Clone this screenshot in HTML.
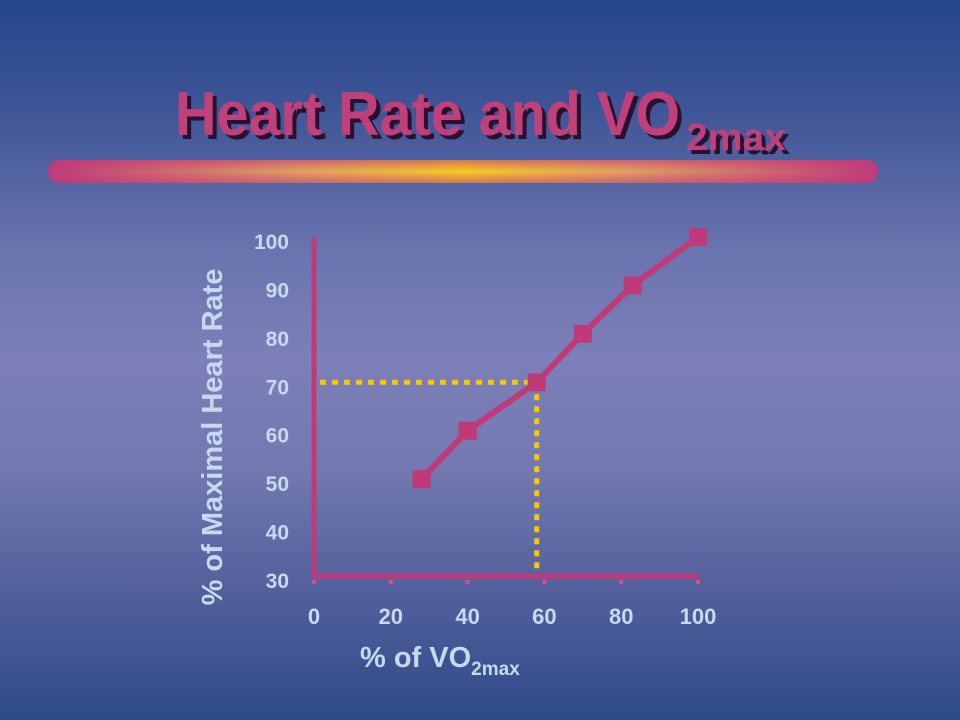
<!DOCTYPE html>
<html><head><meta charset="utf-8"><style>
html,body{margin:0;padding:0;width:960px;height:720px;overflow:hidden}
body{background:linear-gradient(180deg,#24468a 0%,#3e5596 15%,#6a74ae 35%,#7d80b8 50%,#7378b0 65%,#52609c 82%,#2e4a88 100%);font-family:"Liberation Sans",sans-serif}
</style></head><body>
<svg width="960" height="720" viewBox="0 0 960 720" style="position:absolute;left:0;top:0">
<defs>
<linearGradient id="bar" x1="0" x2="1" y1="0" y2="0">
<stop offset="0" stop-color="#c03a7a"/><stop offset="0.3" stop-color="#e0a060"/><stop offset="0.5" stop-color="#f8cc20"/><stop offset="0.7" stop-color="#e0a060"/><stop offset="1" stop-color="#c03a7a"/>
</linearGradient>
<linearGradient id="barv" x1="0" x2="0" y1="0" y2="1">
<stop offset="0" stop-color="#c03a7a" stop-opacity="0.6"/><stop offset="0.5" stop-color="#c03a7a" stop-opacity="0"/><stop offset="1" stop-color="#c03a7a" stop-opacity="0.6"/>
</linearGradient>
</defs>
<g font-weight="bold" font-family="Liberation Sans, sans-serif">
<text x="179" y="139" font-size="62" fill="#2a1030" textLength="505" lengthAdjust="spacingAndGlyphs">Heart Rate and VO</text>
<text x="690" y="154" font-size="38" fill="#2a1030" textLength="100" lengthAdjust="spacingAndGlyphs">2max</text>
<text x="175" y="135" font-size="62" fill="#c0407a" textLength="505" lengthAdjust="spacingAndGlyphs">Heart Rate and VO</text>
<text x="686" y="150" font-size="38" fill="#c0407a" textLength="100" lengthAdjust="spacingAndGlyphs">2max</text>
</g>
<rect x="48" y="160" width="830" height="23" rx="11.5" fill="url(#bar)"/>
<rect x="48" y="160" width="830" height="23" rx="11.5" fill="url(#barv)"/>
<g id="chart"></g>
<text transform="translate(222,437) rotate(-90)" text-anchor="middle" font-size="29" font-weight="bold" fill="#c8d8ef">% of Maximal Heart Rate</text>
<text x="360" y="667" font-size="29" font-weight="bold" fill="#c8d8ef">% of VO<tspan font-size="19" dy="8">2max</tspan></text>
</svg>
<script>
const xTicks=[0,20,40,60,80,100];
const yTicks=[30,40,50,60,70,80,90,100];
const xValues=[28,40,58,70,83,100];
const yValues=[50,60,70,80,90,100];
const refX=58;
const refY=70;
const NS='http://www.w3.org/2000/svg';
const X0=314,X1=698,Y0=576,Y1=237;
function sx(v){return X0+(v-0)/(100-0)*(X1-X0);}
function sy(v){return Y0-(v-30)/(100-30)*(Y0-Y1);}
const g=document.getElementById('chart');
function mk(t,a){const e=document.createElementNS(NS,t);for(const k in a)e.setAttribute(k,a[k]);g.appendChild(e);return e;}
// axes
let ya=mk('line',{x1:X0,y1:Y1,x2:X0,y2:Y0+2,stroke:'#c03a7a','stroke-width':5});


let xa=mk('line',{x1:X0-2,y1:Y0,x2:X1,y2:Y0,stroke:'#c03a7a','stroke-width':5});


xTicks.forEach(v=>{
 const tk=mk('rect',{x:sx(v)-2,y:Y0+4,width:4,height:4,fill:'#e04a8a'});
 
 
 const t=mk('text',{x:sx(v),y:624,'text-anchor':'middle','font-size':22,'font-weight':'bold',fill:'#c8d8ef'});
 t.textContent=v;
 
 
});
yTicks.forEach(v=>{
 const t=mk('text',{x:289,y:sy(v)+12,'text-anchor':'end','font-size':21,'font-weight':'bold',fill:'#c8d8ef'});
 t.textContent=v;
 
 
});
// reference dotted lines
let rh=mk('line',{x1:X0+6,y1:sy(refY),x2:sx(refX),y2:sy(refY),stroke:'#f8c800','stroke-width':5,'stroke-dasharray':'6 6'});


// series line
let pts=xValues.map((v,i)=>sx(v)+','+sy(yValues[i])).join(' ');
let pl=mk('polyline',{points:pts,fill:'none',stroke:'#c03a7a','stroke-width':6,'stroke-linejoin':'round'});


let rv=mk('line',{x1:sx(refX),y1:sy(refY),x2:sx(refX),y2:Y0-4,stroke:'#f8c800','stroke-width':5,'stroke-dasharray':'6 6'});


xValues.forEach((v,i)=>{
 const m=mk('rect',{x:sx(v)-9,y:sy(yValues[i])-9,width:18,height:18,fill:'#c03a7a'});
 
 
});
</script>
</body></html>
